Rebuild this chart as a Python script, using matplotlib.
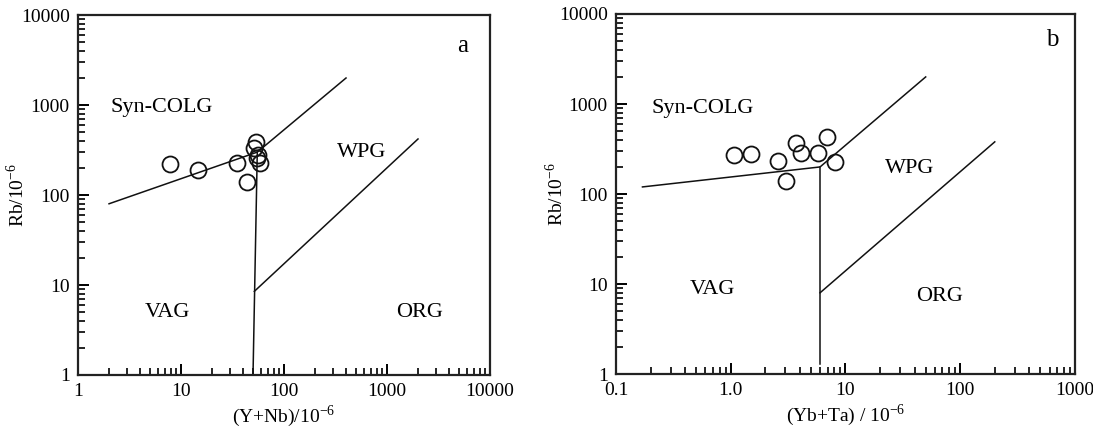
"""
Pearce discrimination diagrams: Rb vs (Y+Nb) and Rb vs (Yb+Ta)
"""
import numpy as np
import matplotlib
matplotlib.use('Agg')
import matplotlib.pyplot as plt
from matplotlib.ticker import LogLocator, NullFormatter, FixedLocator

plt.rcParams['font.family'] = ['Liberation Serif', 'DejaVu Serif']
plt.rcParams['mathtext.fontset'] = 'custom'
plt.rcParams['mathtext.rm'] = 'Liberation Serif'

# --- panel a: Rb vs Y+Nb ---
a_ynb = [7.8, 14.6, 35, 43.7, 53.5, 51, 56, 55, 58.5]
a_rb = [221, 190, 227, 139, 388, 333, 278, 258, 227]
a_upper_x = [2, 55, 400]
a_upper_y = [80, 300, 2000]
a_vert_x = [50, 55]
a_vert_y = [1, 300]
a_org_x = [51.5, 2000]
a_org_y = [8.5, 420]

# --- panel b: Rb vs Yb+Ta ---
b_ybta = [1.07, 1.50, 2.58, 3.03, 3.7, 4.1, 5.76, 6.9, 8.1]
b_rb = [271, 278, 233, 139, 369, 285, 285, 430, 227]
b_upper_x = [0.17, 6, 50]
b_upper_y = [120, 200, 2000]
b_vert_x = [6, 6]
b_vert_y = [1.3, 200]
b_org_x = [6, 200]
b_org_y = [8, 380]

a_xticks = [1, 10, 100, 1000, 10000]
a_xlabels = ['1', '10', '100', '1000', '10000']
b_xticks = [0.1, 1, 10, 100, 1000]
b_xlabels = ['0.1', '1.0', '10', '100', '1000']
yticks = [1, 10, 100, 1000, 10000]
ylabels = ['1', '10', '100', '1000', '10000']

fs = 14
fig = plt.figure(figsize=(10.93, 4.32), dpi=100)
ax1 = fig.add_axes([0.0714, 0.132, 0.3769, 0.833])
ax2 = fig.add_axes([0.5636, 0.134, 0.4199, 0.8336])


def style(ax, xticks, xlabels, xlim):
    ax.set_xscale('log')
    ax.set_yscale('log')
    ax.set_xlim(*xlim)
    ax.set_ylim(1, 10000)
    for s in ax.spines.values():
        s.set_linewidth(1.6)
        s.set_color('#222222')
    ax.xaxis.set_major_locator(FixedLocator(xticks))
    ax.set_xticklabels(xlabels)
    ax.yaxis.set_major_locator(FixedLocator(yticks))
    ax.set_yticklabels(ylabels)
    ax.xaxis.set_minor_locator(LogLocator(base=10, subs=np.arange(2, 10)))
    ax.yaxis.set_minor_locator(LogLocator(base=10, subs=np.arange(2, 10)))
    ax.xaxis.set_minor_formatter(NullFormatter())
    ax.yaxis.set_minor_formatter(NullFormatter())
    ax.tick_params(which='major', direction='in', length=8, width=1.4,
                   labelsize=fs, top=False, right=False, pad=6)
    ax.tick_params(which='minor', direction='in', length=5, width=1.2,
                   top=False, right=False)


style(ax1, a_xticks, a_xlabels, (1, 10000))
style(ax2, b_xticks, b_xlabels, (0.1, 1000))

lw = 1.1
for ax, ux, uy, vx, vy, ox, oy in [
        (ax1, a_upper_x, a_upper_y, a_vert_x, a_vert_y, a_org_x, a_org_y),
        (ax2, b_upper_x, b_upper_y, b_vert_x, b_vert_y, b_org_x, b_org_y)]:
    ax.plot(ux, uy, color='#111111', lw=lw)
    ax.plot(vx, vy, color='#111111', lw=lw)
    ax.plot(ox, oy, color='#111111', lw=lw)

ax1.plot(a_ynb, a_rb, 'o', ms=11.5, mfc='none', mec='#111111', mew=1.3)
ax2.plot(b_ybta, b_rb, 'o', ms=11.5, mfc='none', mec='#111111', mew=1.3)

tfs = 16
ax1.text(6.5, 930, 'Syn-COLG', fontsize=tfs, ha='center', va='center')
ax1.text(572, 300, 'WPG', fontsize=tfs, ha='center', va='center')
ax1.text(7.3, 5.0, 'VAG', fontsize=tfs, ha='center', va='center')
ax1.text(2090, 5.0, 'ORG', fontsize=tfs, ha='center', va='center')
ax1.text(5470, 4500, 'a', fontsize=18, ha='center', va='center')

ax2.text(0.573, 900, 'Syn-COLG', fontsize=tfs, ha='center', va='center')
ax2.text(36.5, 194, 'WPG', fontsize=tfs, ha='center', va='center')
ax2.text(0.687, 8.6, 'VAG', fontsize=tfs, ha='center', va='center')
ax2.text(66.7, 7.2, 'ORG', fontsize=tfs, ha='center', va='center')
ax2.text(631, 5130, 'b', fontsize=18, ha='center', va='center')

ax1.set_xlabel(r'(Y+Nb)/10$^{-6}$', fontsize=fs, labelpad=2)
ax1.set_ylabel(r'Rb/10$^{-6}$', fontsize=fs)
ax1.yaxis.set_label_coords(-0.121, 0.5)
ax2.set_xlabel(r'(Yb+Ta) / 10$^{-6}$', fontsize=fs, labelpad=2)
ax2.set_ylabel(r'Rb/10$^{-6}$', fontsize=fs)
ax2.yaxis.set_label_coords(-0.107, 0.5)

plt.savefig('out.png', dpi=100)
